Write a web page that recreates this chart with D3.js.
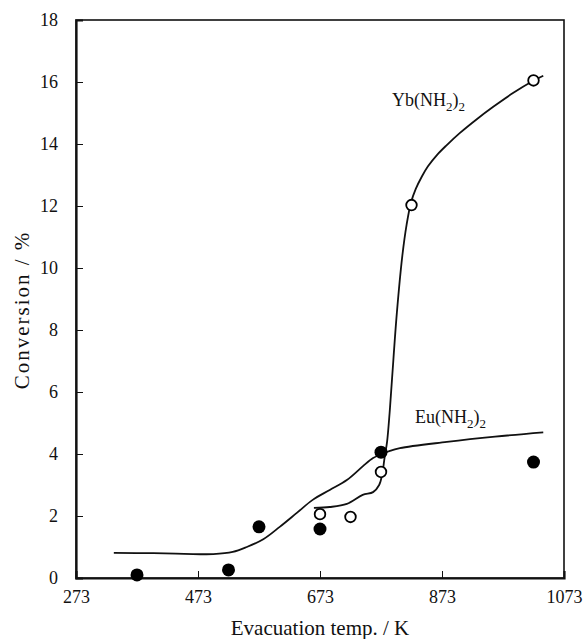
<!DOCTYPE html>
<html>
<head>
<meta charset="utf-8">
<script src="https://cdn.jsdelivr.net/npm/d3@7"></script>
<style>
  html, body { margin: 0; padding: 0; background: #fff; }
  svg { display: block; }
  text { font-family: "Liberation Serif", "Times New Roman", Times, serif; fill: #111; }
</style>
</head>
<body>
<svg id="chart" width="584" height="639"></svg>
<script>
// Axis ticks
const xTicks = [273, 473, 673, 873, 1073];
const yTicks = [0, 2, 4, 6, 8, 10, 12, 14, 16, 18];

// Measured conversions: Eu(NH2)2 (filled) and Yb(NH2)2 (open)
const euTemp = [373, 523, 573, 673, 773, 1023];
const euConv = [0.10, 0.26, 1.65, 1.58, 4.06, 3.74];
const ybTemp = [673, 723, 773, 823, 1023];
const ybConv = [2.06, 1.97, 3.42, 12.03, 16.05];

// Hand-drawn trend curves
const euCurveT = [335, 400, 450, 498, 530, 553, 580, 607, 635, 661, 689, 717, 743, 760, 775, 785, 804, 881, 960, 1039];
const euCurveC = [0.81, 0.80, 0.78, 0.77, 0.84, 1.0, 1.25, 1.65, 2.1, 2.52, 2.84, 3.16, 3.6, 3.87, 4.0, 4.08, 4.19, 4.39, 4.56, 4.7];
const ybCurveT = [663, 689, 717, 743, 760, 770, 775, 779, 783, 787, 791, 799, 808, 815, 822, 830, 840, 850, 865, 880, 902, 930, 957, 990, 1022, 1039];
const ybCurveC = [2.26, 2.29, 2.39, 2.68, 2.77, 3.0, 3.35, 3.9, 4.4, 5.3, 6.4, 8.55, 10.4, 11.4, 12.1, 12.55, 12.95, 13.28, 13.65, 13.95, 14.35, 14.8, 15.2, 15.65, 16.03, 16.2];

const svg = d3.select("#chart");
const margin = { left: 76, right: 20, top: 20, bottom: 61 };
const W = 584, H = 639;

const x = d3.scaleLinear().domain([273, 1073]).range([margin.left, W - margin.right]);
const y = d3.scaleLinear().domain([0, 18]).range([H - margin.bottom, margin.top]);

// Frame
svg.append("rect")
  .attr("x", x(273)).attr("y", y(18))
  .attr("width", x(1073) - x(273)).attr("height", y(0) - y(18))
  .attr("fill", "none").attr("stroke", "#111").attr("stroke-width", 1.6);

// Axes with inward ticks
const xAxis = svg.append("g")
  .attr("transform", `translate(0,${y(0)})`)
  .call(d3.axisBottom(x).tickValues(xTicks).tickSize(-7).tickPadding(12).tickFormat(d3.format("d")));
const yAxis = svg.append("g")
  .attr("transform", `translate(${x(273)},0)`)
  .call(d3.axisLeft(y).tickValues(yTicks).tickSize(-7).tickPadding(18).tickFormat(d3.format("d")));

[xAxis, yAxis].forEach(g => {
  g.select(".domain").attr("stroke", "#111").attr("stroke-width", 2.2);
  g.selectAll(".tick line").attr("stroke", "#111").attr("stroke-width", 1);
  g.selectAll(".tick text")
    .attr("font-family", "'Liberation Serif', 'Times New Roman', serif")
    .attr("font-size", 18).attr("fill", "#111");
});

// Axis titles
svg.append("text")
  .attr("x", 320).attr("y", 635)
  .attr("text-anchor", "middle").attr("font-size", 21)
  .text("Evacuation temp. / K");
svg.append("text")
  .attr("transform", `translate(29,${(y(0) + y(18)) / 2 + 11}) rotate(-90)`)
  .attr("text-anchor", "middle").attr("font-size", 21)
  .attr("letter-spacing", 2)
  .text("Conversion / %");

// Trend curves
const line = d3.line().x(d => x(d[0])).y(d => y(d[1])).curve(d3.curveCatmullRom.alpha(0.5));
svg.append("path")
  .datum(d3.zip(euCurveT, euCurveC))
  .attr("d", line).attr("fill", "none").attr("stroke", "#111").attr("stroke-width", 1.8);
svg.append("path")
  .datum(d3.zip(ybCurveT, ybCurveC))
  .attr("d", line).attr("fill", "none").attr("stroke", "#111").attr("stroke-width", 1.8);

// Markers
svg.append("g").selectAll("circle")
  .data(d3.zip(euTemp, euConv)).join("circle")
  .attr("cx", d => x(d[0])).attr("cy", d => y(d[1]))
  .attr("r", 6.5).attr("fill", "#000");
svg.append("g").selectAll("circle")
  .data(d3.zip(ybTemp, ybConv)).join("circle")
  .attr("cx", d => x(d[0])).attr("cy", d => y(d[1]))
  .attr("r", 5.3).attr("fill", "#fff").attr("stroke", "#000").attr("stroke-width", 1.8);

// Series labels with subscripts
function formulaLabel(px, py, sym) {
  const t = svg.append("text").attr("x", px).attr("y", py).attr("font-size", 18);
  t.append("tspan").text(sym + "(NH");
  t.append("tspan").attr("dy", 5).attr("font-size", 13).text("2");
  t.append("tspan").attr("dy", -5).text(")");
  t.append("tspan").attr("dy", 5).attr("font-size", 13).text("2");
}
formulaLabel(392, 106, "Yb");
formulaLabel(415, 423, "Eu");
</script>
</body>
</html>
